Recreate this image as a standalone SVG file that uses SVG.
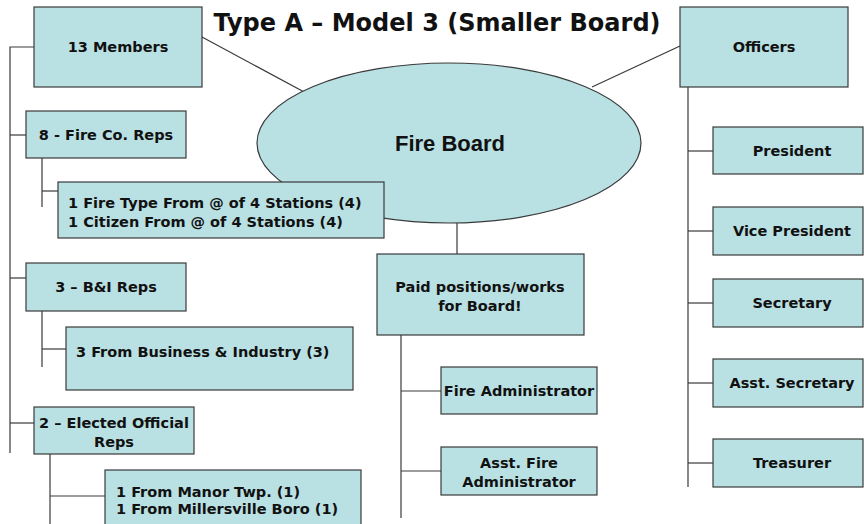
<svg xmlns="http://www.w3.org/2000/svg" width="864" height="524" viewBox="0 0 864 524">
<style>
  .box { fill: #b9e0e3; stroke: #3a3a3a; stroke-width: 1.2; }
  .ln { stroke: #3a3a3a; stroke-width: 1.2; fill: none; }
  .t { font-family: "DejaVu Sans", Verdana, sans-serif; font-weight: bold; font-size: 14.5px; fill: #111; }
  .c { text-anchor: middle; }
  .title { font-family: "DejaVu Sans", Verdana, sans-serif; font-weight: bold; font-size: 24px; fill: #111; text-anchor: middle; }
  .fb { font-family: "Liberation Sans", Arial, sans-serif; font-weight: bold; font-size: 22px; fill: #111; text-anchor: middle; }
</style>
<rect width="864" height="524" fill="#ffffff"/>
<text class="title" x="437" y="31">Type A – Model 3 (Smaller Board)</text>

<g id="connectors">
  <line class="ln" x1="202" y1="37" x2="306" y2="93"/>
  <line class="ln" x1="680" y1="46" x2="592" y2="87"/>
  <polyline class="ln" points="34,47 10,47 10,453"/>
  <line class="ln" x1="10" y1="135" x2="26" y2="135"/>
  <line class="ln" x1="10" y1="278" x2="26" y2="278"/>
  <line class="ln" x1="10" y1="423" x2="34" y2="423"/>
  <polyline class="ln" points="42,158 42,207"/>
  <line class="ln" x1="42" y1="191" x2="58" y2="191"/>
  <polyline class="ln" points="42,311 42,367"/>
  <line class="ln" x1="42" y1="349" x2="66" y2="349"/>
  <polyline class="ln" points="50,454 50,524"/>
  <line class="ln" x1="50" y1="496" x2="105" y2="496"/>
  <line class="ln" x1="457" y1="223" x2="457" y2="254"/>
  <polyline class="ln" points="401,335 401,518"/>
  <line class="ln" x1="401" y1="391" x2="441" y2="391"/>
  <line class="ln" x1="401" y1="471" x2="441" y2="471"/>
  <polyline class="ln" points="688,87 688,487"/>
  <line class="ln" x1="688" y1="151" x2="713" y2="151"/>
  <line class="ln" x1="688" y1="231" x2="713" y2="231"/>
  <line class="ln" x1="688" y1="303" x2="713" y2="303"/>
  <line class="ln" x1="688" y1="383" x2="713" y2="383"/>
  <line class="ln" x1="688" y1="463" x2="713" y2="463"/>
</g>

<g id="members">
  <rect class="box" x="34" y="7" width="168" height="80"/>
  <text class="t c" x="118" y="52">13 Members</text>
</g>
<g id="fireco">
  <rect class="box" x="26" y="111" width="160" height="47"/>
  <text class="t c" x="106" y="140">8 - Fire Co. Reps</text>
</g>
<g id="board">
  <ellipse class="box" cx="449" cy="143" rx="192" ry="80"/>
  <text class="fb" x="450" y="151">Fire Board</text>
</g>
<g id="firetype">
  <rect class="box" x="58" y="182" width="326" height="56"/>
  <text class="t" x="68" y="208">1 Fire Type From @ of 4 Stations (4)</text>
  <text class="t" x="68" y="227">1 Citizen From @ of 4 Stations (4)</text>
</g>
<g id="bi">
  <rect class="box" x="26" y="263" width="160" height="48"/>
  <text class="t c" x="106" y="292">3 – B&amp;I Reps</text>
</g>
<g id="business">
  <rect class="box" x="66" y="327" width="287" height="63"/>
  <text class="t" x="76" y="357">3 From Business &amp; Industry (3)</text>
</g>
<g id="elected">
  <rect class="box" x="34" y="407" width="160" height="47"/>
  <text class="t c" x="114" y="428">2 – Elected Official</text>
  <text class="t c" x="114" y="447">Reps</text>
</g>
<g id="manor">
  <rect class="box" x="105" y="470" width="256" height="60"/>
  <text class="t" x="116" y="497">1 From Manor Twp. (1)</text>
  <text class="t" x="116" y="514">1 From Millersville Boro (1)</text>
</g>
<g id="paid">
  <rect class="box" x="377" y="254" width="207" height="81"/>
  <text class="t c" x="480" y="292">Paid positions/works</text>
  <text class="t c" x="480" y="311">for Board!</text>
</g>
<g id="fireadmin">
  <rect class="box" x="441" y="367" width="156" height="47"/>
  <text class="t c" x="519" y="396">Fire Administrator</text>
</g>
<g id="asstfireadmin">
  <rect class="box" x="441" y="447" width="156" height="48"/>
  <text class="t c" x="519" y="468">Asst. Fire</text>
  <text class="t c" x="519" y="487">Administrator</text>
</g>
<g id="officers">
  <rect class="box" x="680" y="7" width="168" height="80"/>
  <text class="t c" x="764" y="52">Officers</text>
</g>
<g id="president">
  <rect class="box" x="713" y="127" width="150" height="47"/>
  <text class="t c" x="792" y="156">President</text>
</g>
<g id="vp">
  <rect class="box" x="713" y="207" width="150" height="48"/>
  <text class="t c" x="792" y="236">Vice President</text>
</g>
<g id="secretary">
  <rect class="box" x="713" y="279" width="150" height="48"/>
  <text class="t c" x="792" y="308">Secretary</text>
</g>
<g id="asstsec">
  <rect class="box" x="713" y="359" width="150" height="48"/>
  <text class="t c" x="792" y="388">Asst. Secretary</text>
</g>
<g id="treasurer">
  <rect class="box" x="713" y="439" width="150" height="48"/>
  <text class="t c" x="792" y="468">Treasurer</text>
</g>
</svg>
